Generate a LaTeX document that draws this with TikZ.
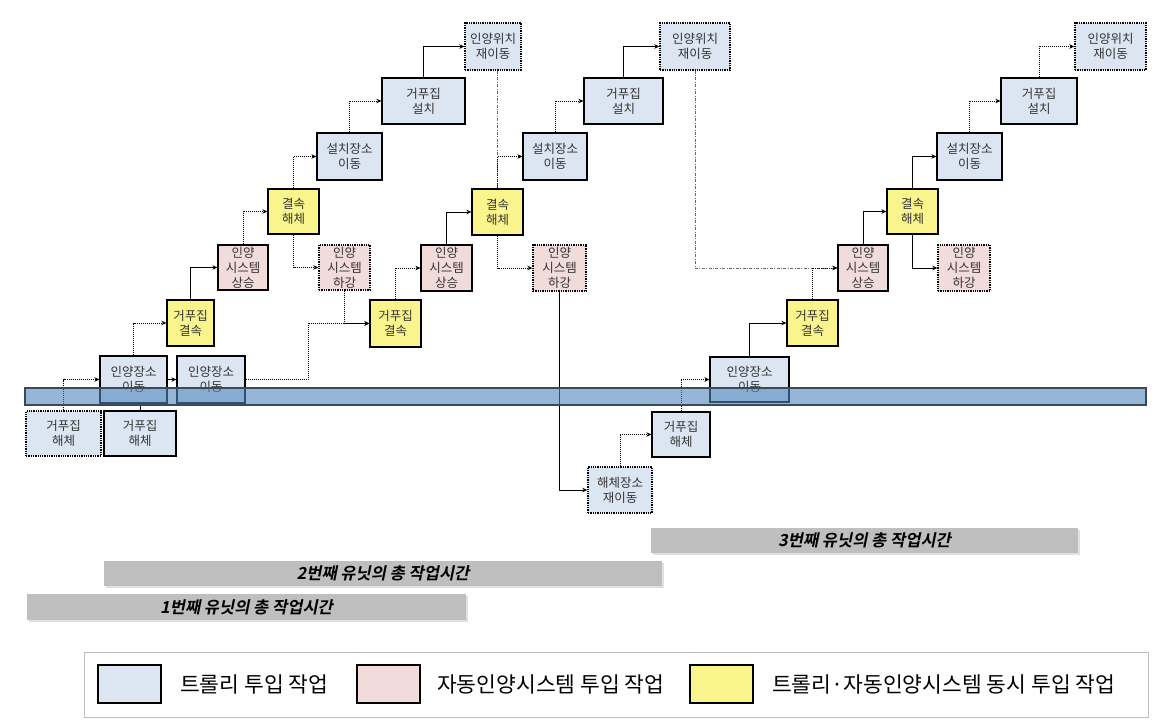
\documentclass[tikz,border=0pt]{standalone}
\usepackage{fontspec}
\setmainfont{Noto Sans CJK KR}
\newfontfamily\barfont{Noto Sans CJK KR Bold}[FakeSlant=0.2]
\usetikzlibrary{arrows.meta,calc}
\definecolor{bfill}{HTML}{DCE6F2}
\definecolor{pfill}{HTML}{F2DCDB}
\definecolor{yfill}{HTML}{F9F48C}
\definecolor{bandfill}{HTML}{4F86BD}
\definecolor{bandline}{HTML}{3C4A58}
\definecolor{barfill}{HTML}{BFBFBF}
\newcommand\bx[7]{%
  \pgfmathsetmacro\bxcx{(#3+#5)/2}%
  \pgfmathsetmacro\bxcy{(#4+#6)/2}%
  \pgfmathsetmacro\bxww{#5-#3}%
  \pgfmathsetmacro\bxhh{#6-#4}%
  \node[#2, minimum width=\bxww pt, minimum height=\bxhh pt] (#1) at (\bxcx,\bxcy) {#7};}
\begin{document}
\begin{tikzpicture}[x=1pt,y=-1pt,
  box/.style={draw=black, line width=1.2pt, inner sep=0pt, align=center,
    font=\fontsize{12.5}{15}\selectfont, text=black!80},
  tb/.style={box, fill=bfill},
  tp/.style={box, fill=pfill},
  ty/.style={box, fill=yfill},
  dbox/.style={dash pattern=on 1.3pt off 1pt, line width=1.4pt},
  conn/.style={line width=0.8pt, -{Stealth[length=5pt,width=4.5pt]}},
  dconn/.style={conn, dash pattern=on 1pt off 1pt},
  ddot/.style={conn, black!60, line width=0.6pt, dash pattern=on 3pt off 1.5pt on 0.8pt off 1.5pt},
  bar/.style={fill=barfill, inner sep=0pt, font=\barfont\fontsize{16.5}{18}\selectfont},
  legsq/.style={draw=black, line width=2pt, minimum width=63pt, minimum height=38pt, inner sep=0pt},
  legtx/.style={anchor=west, inner sep=0pt, font=\fontsize{21.5}{23}\selectfont}
]
\useasboundingbox (0,0) rectangle (1154,722);
\fill[white] (0,0) rectangle (1154,722);

% unit 1
\bx{A1}{tb,dbox}{26}{411}{101}{456}{거푸집\\해체}
\bx{B1}{tb}{100}{356}{167}{403}{인양장소\\이동}
\bx{C1}{ty}{167}{300}{214}{346}{거푸집\\결속}
\bx{D1}{tp}{218}{245}{268}{290}{인양\\시스템\\상승}
\bx{E1}{ty}{268}{189}{319}{234}{결속\\해체}
\bx{F1}{tp,dbox}{319}{245}{370}{290}{인양\\시스템\\하강}
\bx{G1}{tb}{317}{133}{382}{180}{설치장소\\이동}
\bx{H1}{tb}{382}{78}{465}{124}{거푸집\\설치}
\bx{I1}{tb,dbox}{465}{23}{521}{70}{인양위치\\재이동}
% unit 2
\bx{A2}{tb}{104}{411}{176}{456}{거푸집\\해체}
\bx{B2}{tb}{177}{356}{245}{403}{인양장소\\이동}
\bx{C2}{ty}{370}{300}{421}{347}{거푸집\\결속}
\bx{D2}{tp}{421}{245}{472}{291}{인양\\시스템\\상승}
\bx{E2}{ty}{472}{189}{523}{235}{결속\\해체}
\bx{F2}{tp,dbox}{533}{245}{586}{291}{인양\\시스템\\하강}
\bx{G2}{tb}{523}{133}{587}{180}{설치장소\\이동}
\bx{H2}{tb}{584}{78}{663}{124}{거푸집\\설치}
\bx{I2}{tb,dbox}{660}{23}{730}{70}{인양위치\\재이동}
% unit 3
\bx{J3}{tb,dbox}{588}{467}{652}{513}{해체장소\\재이동}
\bx{A3}{tb}{652}{412}{710}{457}{거푸집\\해체}
\bx{B3}{tb}{710}{357}{789}{402}{인양장소\\이동}
\bx{C3}{ty}{787}{300}{838}{346}{거푸집\\결속}
\bx{D3}{tp}{838}{245}{888}{291}{인양\\시스템\\상승}
\bx{E3}{ty}{887}{189}{938}{234}{결속\\해체}
\bx{F3}{tp,dbox}{938}{245}{990}{291}{인양\\시스템\\하강}
\bx{G3}{tb}{937}{133}{1002}{180}{설치장소\\이동}
\bx{H3}{tb}{1001}{78}{1077}{124}{거푸집\\설치}
\bx{I3}{tb,dbox}{1075}{23}{1146}{70}{인양위치\\재이동}

% connectors unit 1
\draw[dconn] (A1.north) |- (B1.west);
\draw[dconn] (B1.north) |- (C1.west);
\draw[conn] (C1.north) |- (D1.west);
\draw[dconn] (D1.north) |- (E1.west);
\draw[dconn] (E1.south) |- (F1.west);
\draw[dconn] (E1.north) |- (G1.west);
\draw[dconn] (G1.north) |- (H1.west);
\draw[conn] (H1.north) |- (I1.west);
\draw[ddot,-] (I1.south -| E2.north) -- (E2.north);
% connectors unit 2
\draw[line width=0.8pt] (A2.north) -- (A2.north |- B1.south);
\draw[conn] (B1.east) -- (B2.west);
\coordinate (k1) at (308,323);
\draw[dconn] (B2.east) -| (k1) |- (C2.west);
\draw[dconn] (F1.south) |- (C2.west);
\draw[dconn] (C2.north) |- (D2.west);
\draw[conn] (D2.north) |- (E2.west);
\draw[dconn] (E2.south) |- (F2.west);
\draw[dconn] (E2.north) |- (G2.west);
\draw[dconn] (G2.north) |- (H2.west);
\draw[conn] (H2.north) |- (I2.west);
\draw[ddot] (I2.south) |- (D3.west);
% connectors unit 3
\draw[conn] (F2.south) |- (J3.west);
\draw[dconn] (J3.north) |- (A3.west);
\draw[dconn] (A3.north) |- (B3.west);
\draw[conn] (B3.north) |- (C3.west);
\draw[dconn] (C3.north) |- (D3.west);
\draw[conn] (D3.north) |- (E3.west);
\draw[conn] (E3.south) |- (F3.west);
\draw[conn] (E3.north) |- (G3.west);
\draw[dconn] (G3.north) |- (H3.west);
\draw[dconn] (H3.north) |- (I3.west);

% band
\draw[draw=bandline, line width=1.5pt, fill=bandfill, fill opacity=0.6] (25,388) rectangle (1146,405);

% bars
\fill[black!12] (653,530) rectangle (1080,555);
\fill[black!12] (106,563) rectangle (664,588);
\fill[black!12] (29,596) rectangle (468,622);
\node[bar, minimum width=427pt, minimum height=25pt] (bar3) at (864.5,540.5) {3번째 유닛의 총 작업시간};
\node[bar, minimum width=558pt, minimum height=25pt] (bar2) at (383,573.5) {2번째 유닛의 총 작업시간};
\node[bar, minimum width=439pt, minimum height=26pt] (bar1) at (246.5,607) {1번째 유닛의 총 작업시간};

% legend
\draw[black!25, line width=1pt] (84,652) rectangle (1148,717);
\node[legsq, fill=bfill] (L1) at (129.5,684) {};
\node[legtx] (L1t) at (180,684) {트롤리 투입 작업};
\node[legsq, fill=pfill] (L2) at (388,684) {};
\node[legtx] (L2t) at (437,684) {자동인양시스템 투입 작업};
\node[legsq, fill=yfill] (L3) at (721,684) {};
\node[legtx] (L3t) at (772,684) {트롤리·자동인양시스템 동시 투입 작업};
\end{tikzpicture}
\end{document}
